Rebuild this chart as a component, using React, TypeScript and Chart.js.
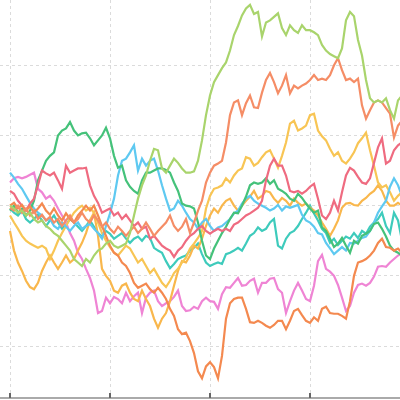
import React, { useEffect, useRef } from "react";
import { Chart, registerables } from "chart.js";

Chart.register(...registerables);

// y values: random-walk levels (grid step = 10)
const lime = [0,-0.4,-1.0,-0.7,-1.4,-1.0,-1.9,-2.4,-2.1,-2.9,-3.3,-3.9,-4.3,-5.0,-5.7,-6.4,-7.6,-8.1,-8.6,-7.6,-8.1,-7.1,-6.4,-6.1,-5.4,-5.0,-5.7,-6.0,-5.7,-5.4,-3.9,-1.4,1.0,2.9,4.3,6.4,8.1,7.9,5.3,4.7,5.7,6.7,6.1,5.3,4.7,4.7,4.9,6.4,9.3,12.9,15.7,17.6,18.6,19.6,20.4,22.1,24.3,25.6,27.1,28.1,28.6,27.3,27.6,24.1,26.1,26.4,26.9,27.4,25.3,24.3,25.7,25.0,24.6,25.7,25.0,25.0,24.7,24.3,22.9,22.1,21.6,21.3,21.0,22.4,26.4,27.6,27.0,23.6,21.4,17.9,15.3,14.7,15.0,14.7,15.3,13.6,12.4,15.0,15.7];
const salmon = [-0.3,-0.7,0,-1.0,-0.4,-1.4,-0.7,-1.9,-1.3,-2.1,-1.6,-2.4,-1.9,-2.9,-2.1,-1.4,-2.4,-1.9,-1.0,-1.9,-2.4,-1.4,-2.1,-3.0,-2.4,-3.3,-3.9,-3.0,-3.6,-4.3,-3.6,-3.0,-3.9,-3.3,-2.4,-3.3,-4.3,-3.6,-3.0,-2.4,-1.4,-2.9,-3.6,-3.0,-1.9,-3.9,-2.4,-0.7,0.7,3.3,4.7,5.7,6.0,6.4,9.0,12.9,14.7,15.0,12.9,14.6,15.7,14.0,13.9,16.1,17.9,18.9,17.6,16.0,17.1,18.6,16.0,17.1,16.7,17.1,17.4,17.9,18.6,17.9,18.1,17.9,18.6,20.0,21.0,19.3,17.9,18.1,17.6,18.1,14.3,12.4,13.6,14.7,15.0,14.7,13.9,13.1,9.7,11.4,12.1];
const orange = [0,0.4,-0.4,0.1,-0.7,-0.1,-1.0,-0.4,0.3,-0.7,-1.3,-0.4,-1.4,-2.1,-1.1,-1.9,-2.4,-1.4,-0.7,0,-0.7,0,-1.4,-2.9,-4.3,-5.7,-6.7,-7.1,-8.1,-8.6,-9.6,-11.0,-11.7,-11.4,-11.1,-11.9,-12.4,-11.7,-12.4,-13.3,-14.7,-15.7,-17.6,-18.3,-18.1,-19.3,-21.0,-23.6,-24.6,-22.9,-22.3,-23.0,-24.6,-21.4,-16.1,-13.9,-13.3,-13.1,-13.1,-14.7,-16.6,-16.7,-16.4,-16.7,-17.1,-17.4,-17.0,-16.4,-16.4,-17.6,-16.4,-15.0,-14.7,-15.6,-16.4,-16.7,-15.9,-16.4,-14.7,-14.4,-15.3,-15.4,-15.4,-15.7,-16.1,-13.6,-10.0,-8.1,-7.9,-7.6,-7.1,-6.4,-5.3,-4.7,-5.9,-6.0,-6.4,-6.1,-6.7];
const crimson = [2.1,1.7,0.7,0,-0.7,0.3,1.0,2.9,5.0,4.6,4.3,4.7,3.6,2.4,5.7,4.7,5.0,5.3,5.3,5.4,2.9,1.4,0.4,-1.0,-0.7,-0.4,-1.4,-1.0,-1.9,-1.3,-2.1,-2.9,-2.4,-3.3,-3.0,-4.7,-4.3,-5.0,-5.7,-6.1,-6.4,-7.3,-6.4,-5.9,-5.0,-4.3,-3.9,-3.3,-2.9,-3.6,-4.0,-3.6,-3.3,-3.6,-3.3,-3.6,-2.7,-2.4,-1.9,-1.4,-1.1,-0.7,-0.3,0.7,3.6,5.7,6.7,5.7,5.7,4.3,2.1,1.9,2.1,1.7,2.1,2.7,3.1,1.0,-1.4,-1.9,-1.0,0.7,-0.7,1.9,4.3,5.4,5.0,4.1,3.3,3.1,3.9,6.1,8.3,9.6,6.0,6.4,7.9,8.6,9.0];
const green = [-0.7,0,-1.0,-0.4,-1.4,-0.7,0.7,3.6,5.0,6.4,7.1,7.6,10.0,10.7,11.0,11.9,10.7,10.0,10.3,10.4,9.6,8.6,9.3,10.0,11.1,9.6,7.1,5.4,5.7,3.6,2.7,2.1,1.7,3.6,4.7,4.7,5.0,5.3,5.3,5.1,4.7,3.3,2.1,0.3,0,-0.1,-0.4,-2.4,-5.0,-7.1,-7.6,-6.1,-5.0,-3.9,-3.0,-1.9,-1.0,-1.1,0,1.3,2.9,3.3,3.1,3.3,3.9,3.1,3.6,2.4,2.1,1.7,1.0,0.7,1.7,1.1,0.3,-0.4,-1.0,-0.7,-3.1,-3.6,-4.7,-5.9,-5.4,-4.6,-5.7,-6.7,-5.0,-5.4,-4.3,-4.0,-3.6,-2.6,-2.4,-3.3,-4.4,-5.7,-6.4,-6.7,-7.1];
const cyan = [4.7,4.0,3.1,2.4,1.4,0.4,-0.4,-1.0,-1.4,-2.1,-1.9,-2.9,-3.3,-2.4,-3.0,-3.6,-2.9,-2.4,-3.3,-2.9,-2.6,-3.3,-3.9,-4.7,-2.9,-1.1,1.0,4.3,6.4,6.7,7.6,8.6,5.0,6.7,5.7,6.4,6.7,5.0,2.9,1.0,-0.7,-0.4,0.7,0,-1.0,-1.9,-2.4,-3.3,-2.4,-1.9,-2.9,-3.6,-3.1,-2.9,-2.4,-1.9,-1.1,-0.7,0.3,1.0,1.4,0.7,0.3,0,-0.3,-0.7,-0.4,0.1,-0.7,-0.1,-0.3,-0.1,0.1,-1.3,-2.1,-2.4,-3.0,-3.9,-4.1,-5.3,-6.1,-6.9,-6.4,-5.9,-6.4,-5.3,-5.4,-5.0,-4.6,-4.4,-3.6,-2.4,-1.0,-0.1,0.7,2.7,3.9,2.9,1.4];
const gold = [-1.4,-2.4,-3.3,-4.3,-5.0,-5.4,-5.7,-6.0,-5.7,-6.1,-7.6,-6.4,-5.0,-3.9,-2.9,-1.9,-1.0,-0.4,0,-0.7,-0.3,-1.0,-2.4,-3.9,-5.0,-5.9,-6.7,-7.1,-6.4,-5.7,-6.1,-7.1,-8.1,-7.6,-8.6,-9.6,-9.0,-10.0,-11.0,-11.6,-10.7,-9.6,-9.0,-8.1,-7.4,-6.1,-5.4,-4.6,-3.6,-0.4,1.4,2.4,2.6,2.9,3.9,3.3,4.3,5.0,5.3,6.9,6.7,5.7,6.1,6.9,7.6,7.9,6.7,5.4,7.1,9.0,11.7,12.1,10.7,11.0,11.4,12.9,13.1,10.7,9.9,9.3,8.1,7.1,7.6,6.4,6.0,6.7,7.6,8.9,9.6,10.4,7.9,5.7,3.3,2.6,2.9,1.9,0.7,1.4,1.9];
const amber = [-3.6,-6.4,-8.1,-9.3,-10.7,-11.6,-11.9,-11.0,-9.3,-8.1,-7.1,-8.1,-9.0,-8.1,-7.1,-8.1,-7.6,-6.4,-5.3,-3.9,-2.1,-1.0,-4.3,-9.0,-10.0,-10.7,-12.1,-12.4,-11.4,-11.1,-12.4,-13.3,-13.6,-12.1,-13.3,-14.3,-16.1,-17.4,-16.1,-15.3,-13.6,-11.4,-9.3,-7.9,-8.1,-7.1,-5.7,-6.1,-4.7,-2.9,-1.4,-0.4,-1.0,0,0.7,1.0,0,-0.7,0,0.7,1.3,2.1,1.0,1.4,2.1,1.9,1.0,0.4,1.1,0.7,0,1.0,0.4,0,0.3,-0.3,-0.7,-1.4,-2.4,-3.3,-4.3,-3.3,-2.1,-0.3,0.3,0.4,0.1,0,0.7,1.1,1.7,2.1,2.9,2.1,0.7,0,0,0.4,0];
const magenta = [3.3,3.9,4.1,3.9,4.1,4.4,4.7,2.4,1.9,1.0,1.4,0.7,-0.4,-1.4,-2.4,-3.9,-5.0,-6.7,-7.6,-9.0,-10.3,-12.1,-15.3,-15.0,-13.1,-13.9,-13.0,-13.3,-13.9,-12.4,-13.6,-12.9,-12.4,-15.3,-13.1,-12.4,-12.1,-13.6,-14.3,-13.9,-13.6,-13.0,-12.1,-14.3,-15.0,-14.9,-14.4,-14.7,-13.6,-13.1,-13.6,-13.7,-14.7,-12.6,-11.6,-11.7,-11.0,-10.3,-11.4,-11.3,-10.7,-10.4,-12.4,-11.0,-11.0,-10.4,-10.3,-11.9,-12.4,-15.3,-13.6,-12.1,-11.0,-12.1,-13.3,-13.6,-11.4,-7.9,-7.0,-9.0,-9.4,-10.0,-11.3,-13.1,-15.0,-14.3,-12.4,-11.3,-11.1,-11.4,-11.0,-10.1,-8.7,-8.6,-8.7,-8.1,-7.6,-7.1,-6.7];
const teal = [-0.4,-1.0,-1.4,-0.7,-1.9,-2.4,-1.9,-1.3,-2.1,-2.9,-2.1,-1.4,-2.4,-3.3,-2.7,-1.9,-2.4,-3.0,-3.6,-2.9,-2.1,-3.0,-3.9,-4.4,-3.6,-4.0,-4.7,-4.3,-3.9,-4.7,-5.3,-4.7,-4.4,-5.0,-4.3,-4.6,-6.0,-6.4,-6.7,-7.9,-8.9,-8.3,-7.6,-7.3,-7.1,-6.4,-6.0,-5.4,-6.9,-8.1,-8.6,-8.3,-8.1,-8.3,-6.9,-6.7,-6.4,-6.0,-6.4,-5.4,-4.3,-3.9,-3.1,-3.6,-3.3,-2.4,-1.9,-5.7,-6.1,-4.7,-3.9,-3.6,-2.9,-1.9,-1.0,0,-1.1,-2.1,-3.3,-3.9,-5.3,-4.7,-5.6,-5.0,-4.4,-4.7,-3.9,-4.6,-3.6,-4.0,-3.0,-2.4,-1.9,-1.0,-2.9,-3.9,-1.0,-2.1,-5.0];

const seriesList = [
  { name: "lime", values: lime, color: "#a9d46c" },
  { name: "salmon", values: salmon, color: "#f58d66" },
  { name: "orange", values: orange, color: "#f4894f" },
  { name: "crimson", values: crimson, color: "#ef6b80" },
  { name: "green", values: green, color: "#45c27a" },
  { name: "cyan", values: cyan, color: "#5ec9f1" },
  { name: "gold", values: gold, color: "#f8c554" },
  { name: "amber", values: amber, color: "#f9b74c" },
  { name: "magenta", values: magenta, color: "#ef84d4" },
  { name: "teal", values: teal, color: "#3ecbbc" },
];

const xTicks = [0, 25, 50, 75];
const yTicks = [-20, -10, 0, 10, 20];

const innerTicks = {
  id: "innerTicks",
  afterDraw(chart: any) {
    const { ctx, chartArea, scales } = chart;
    ctx.save();
    ctx.strokeStyle = "#666";
    ctx.lineWidth = 2;
    xTicks.forEach((t) => {
      const px = scales.x.getPixelForValue(t);
      ctx.beginPath();
      ctx.moveTo(px, chartArea.bottom - 5);
      ctx.lineTo(px, chartArea.bottom);
      ctx.stroke();
    });
    ctx.restore();
  },
};

export default function App() {
  const ref = useRef<HTMLCanvasElement>(null);
  useEffect(() => {
    if (!ref.current) return;
    const chart = new Chart(ref.current, {
      type: "line",
      data: {
        datasets: seriesList.map((s) => ({
          label: s.name,
          data: s.values.map((v, i) => ({ x: i, y: v })),
          borderColor: s.color,
          backgroundColor: s.color,
          borderWidth: 2.2,
          pointRadius: 0,
          tension: 0,
          fill: false,
        })),
      },
      options: {
        animation: false,
        responsive: true,
        maintainAspectRatio: false,
        layout: { padding: { left: 0, right: 0, top: 0, bottom: 2 } },
        plugins: { legend: { display: false }, tooltip: { enabled: false } },
        scales: {
          x: {
            type: "linear",
            min: -2.5,
            max: 97.5,
            afterBuildTicks: (scale: any) => {
              scale.ticks = xTicks.map((v) => ({ value: v }));
            },
            ticks: { display: false },
            grid: {
              color: "rgba(0,0,0,0.14)",
              lineWidth: 1,
              drawTicks: false,
            },
            border: { display: true, color: "#aaa", width: 2, dash: [3, 3] },
          },
          y: {
            type: "linear",
            min: -27.4,
            max: 29.3,
            afterBuildTicks: (scale: any) => {
              scale.ticks = yTicks.map((v) => ({ value: v }));
            },
            ticks: { display: false },
            grid: { color: "rgba(0,0,0,0.14)", lineWidth: 1, drawTicks: false },
            border: { display: false, dash: [3, 3] },
          },
        },
      },
      plugins: [innerTicks],
    });
    return () => chart.destroy();
  }, []);
  return (
    <div style={{ position: "fixed", left: 0, top: 0, width: 400, height: 400, background: "#fff" }}>
      <canvas ref={ref} />
    </div>
  );
}
